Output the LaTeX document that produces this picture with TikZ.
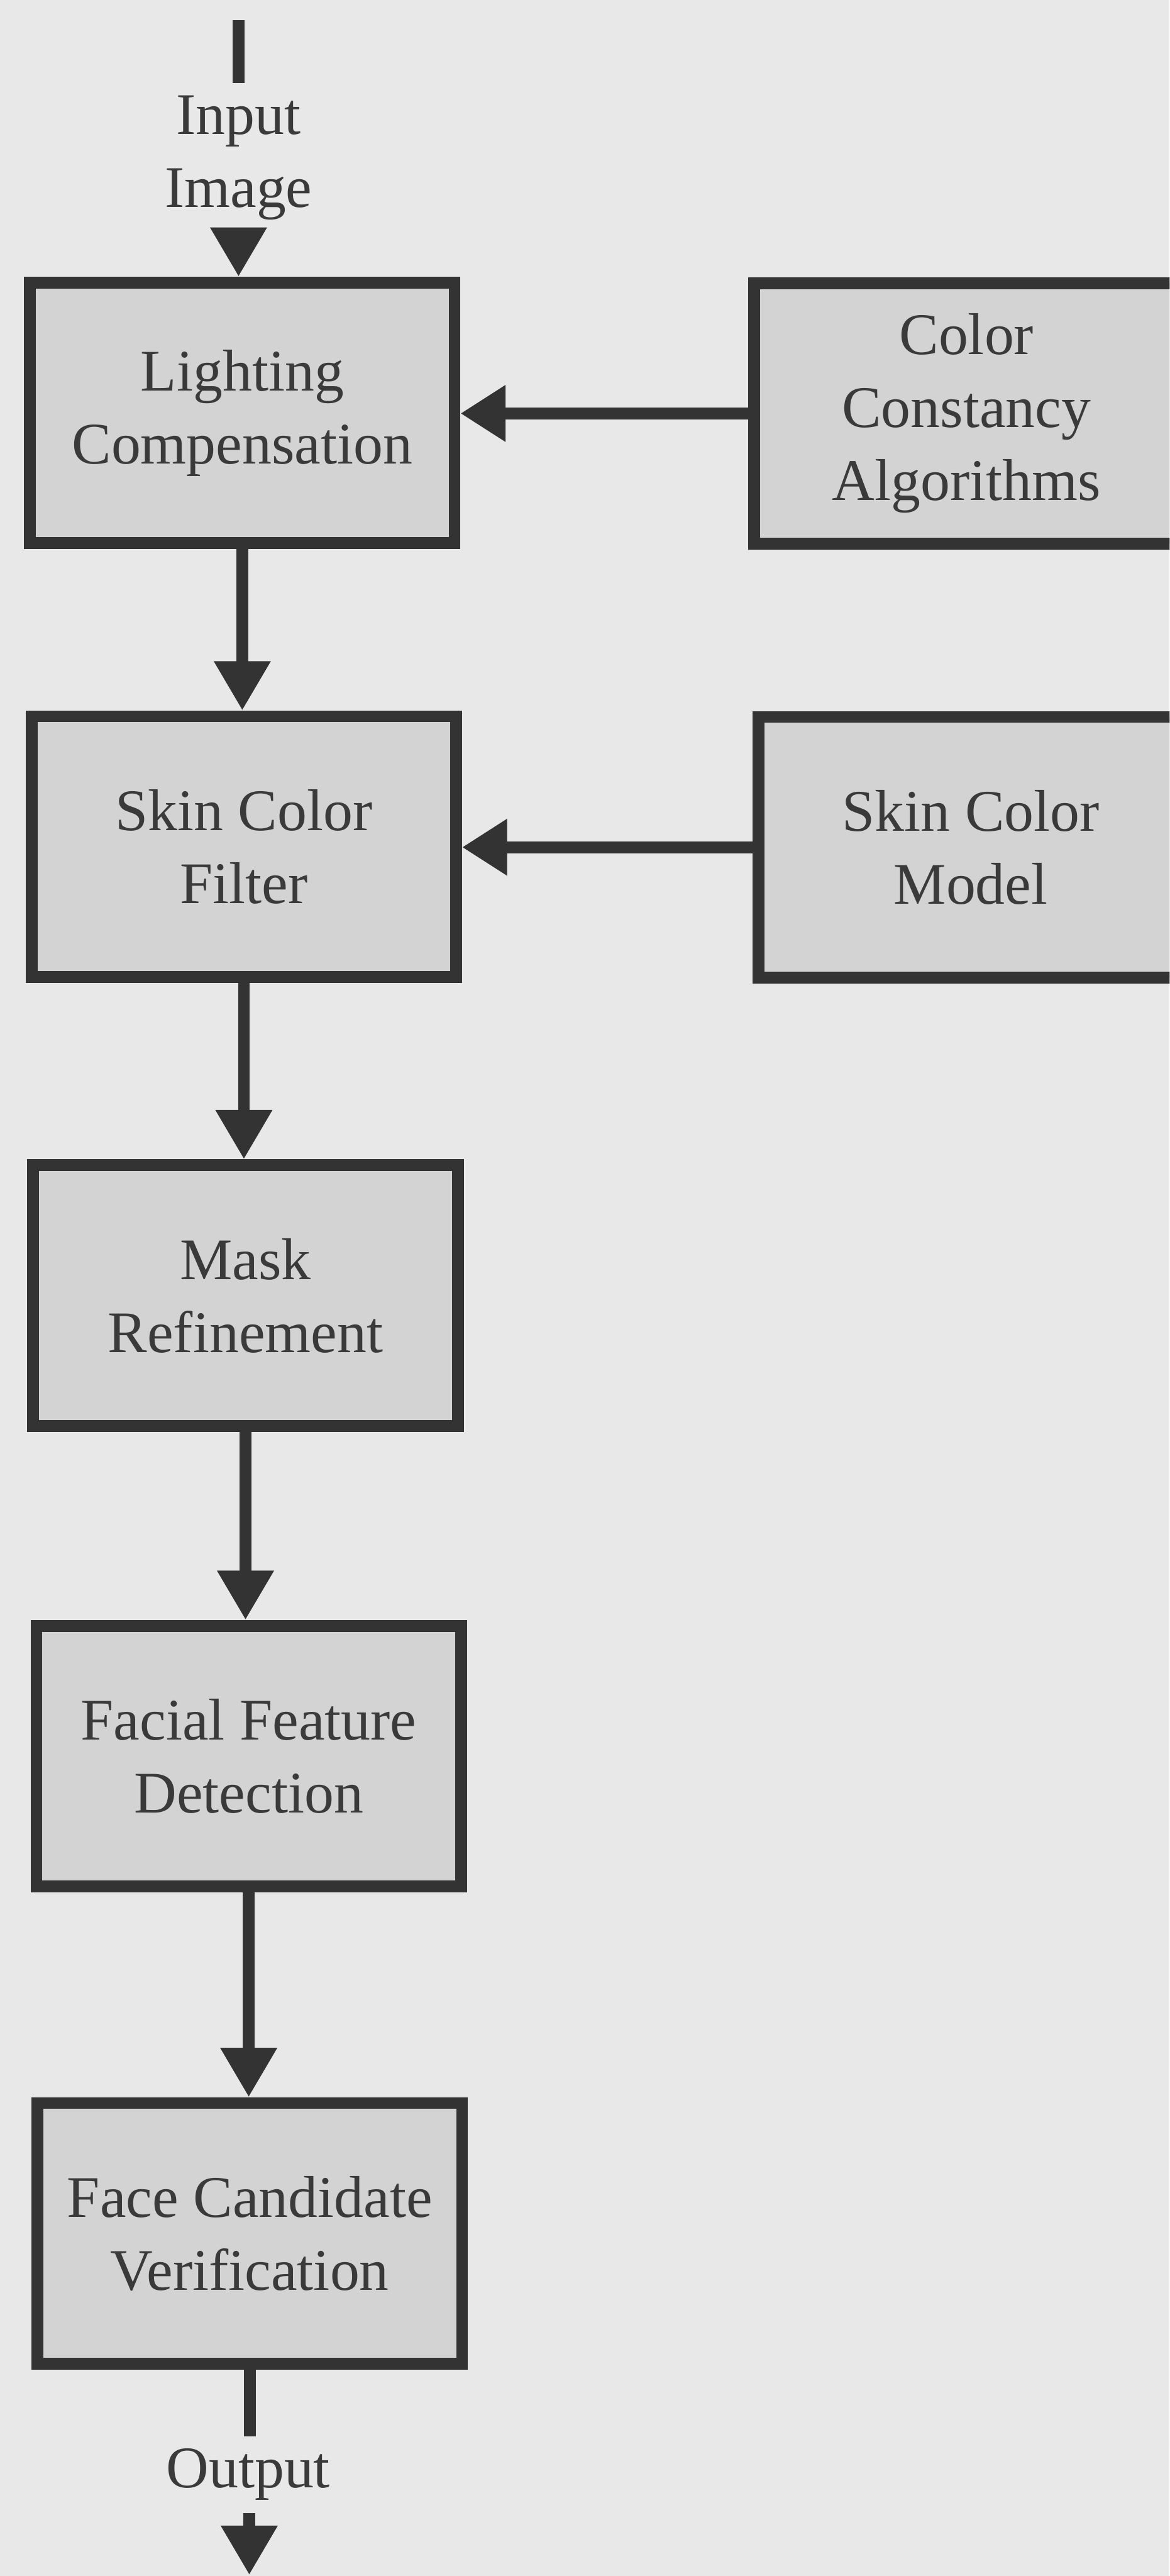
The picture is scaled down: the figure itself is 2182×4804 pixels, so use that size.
\documentclass[tikz,border=0pt]{standalone}
\usepackage{fontspec}
\setmainfont{Liberation Serif}
\usetikzlibrary{arrows.meta}
\definecolor{bgc}{HTML}{E8E8E8}
\definecolor{boxc}{HTML}{D3D3D3}
\definecolor{linec}{HTML}{333333}
\definecolor{textc}{HTML}{3A3A3A}
\tikzset{
  stagebox/.style={draw=linec, line width=22pt, fill=boxc, minimum width=792pt,
    minimum height=486pt, inner sep=0pt, align=center, text=textc,
    font=\fontsize{110}{136}\selectfont},
  iolabel/.style={inner sep=23pt, outer sep=0pt, align=center, text=textc,
    font=\fontsize{110}{136}\selectfont},
  flow/.style={draw=linec, line width=22pt},
  vflow/.style={flow, -{Triangle[length=92pt,width=100pt]}},
  hflow/.style={flow, -{Triangle[length=84pt,width=100pt]}}
}
\begin{document}
\begin{tikzpicture}[x=1pt,y=-1pt]
\useasboundingbox (0,0) rectangle (2182,4804);
\clip (0,0) rectangle (2182,4804);
\fill[bgc] (0,0) rectangle (2182,4804);

% main column
\node[stagebox] (lc)  at (452,770)    {Lighting\\Compensation};
\node[stagebox] (scf) at (455,1579)   {Skin Color\\Filter};
\node[stagebox] (mr)  at (458,2416)   {Mask\\Refinement};
\node[stagebox] (ffd) at (464,3275)   {Facial Feature\\Detection};
\node[stagebox] (fcv) at (466,4165)   {Face Candidate\\Verification};

% side column (cut by the right edge)
\node[stagebox] (cca) at (1803,771)   {Color\\Constancy\\Algorithms};
\node[stagebox] (scm) at (1811,1580)  {Skin Color\\Model};

% input
\coordinate (instart) at (445,37);
\node[iolabel] (inlbl) at (445,294) {Input\\Image};
\draw[flow] (instart) -- (inlbl.north);
\draw[vflow] (inlbl.south) -- (inlbl.south |- lc.north);

% output
\node[iolabel] (outlbl) at (463,4615) {Output};
\coordinate (outend) at (465,4802);
\draw[flow] (fcv.south) -- (fcv.south |- outlbl.north);
\draw[vflow] (outlbl.south -| outend) -- (outend);

% vertical flow
\draw[vflow] (lc.south)  -- (lc.south |- scf.north);
\draw[vflow] (scf.south) -- (scf.south |- mr.north);
\draw[vflow] (mr.south)  -- (mr.south |- ffd.north);
\draw[vflow] (ffd.south) -- (ffd.south |- fcv.north);

% side inputs
\draw[hflow] (cca.west) -- (cca.west -| lc.east);
\draw[hflow] (scm.west) -- (scm.west -| scf.east);
\end{tikzpicture}
\end{document}
